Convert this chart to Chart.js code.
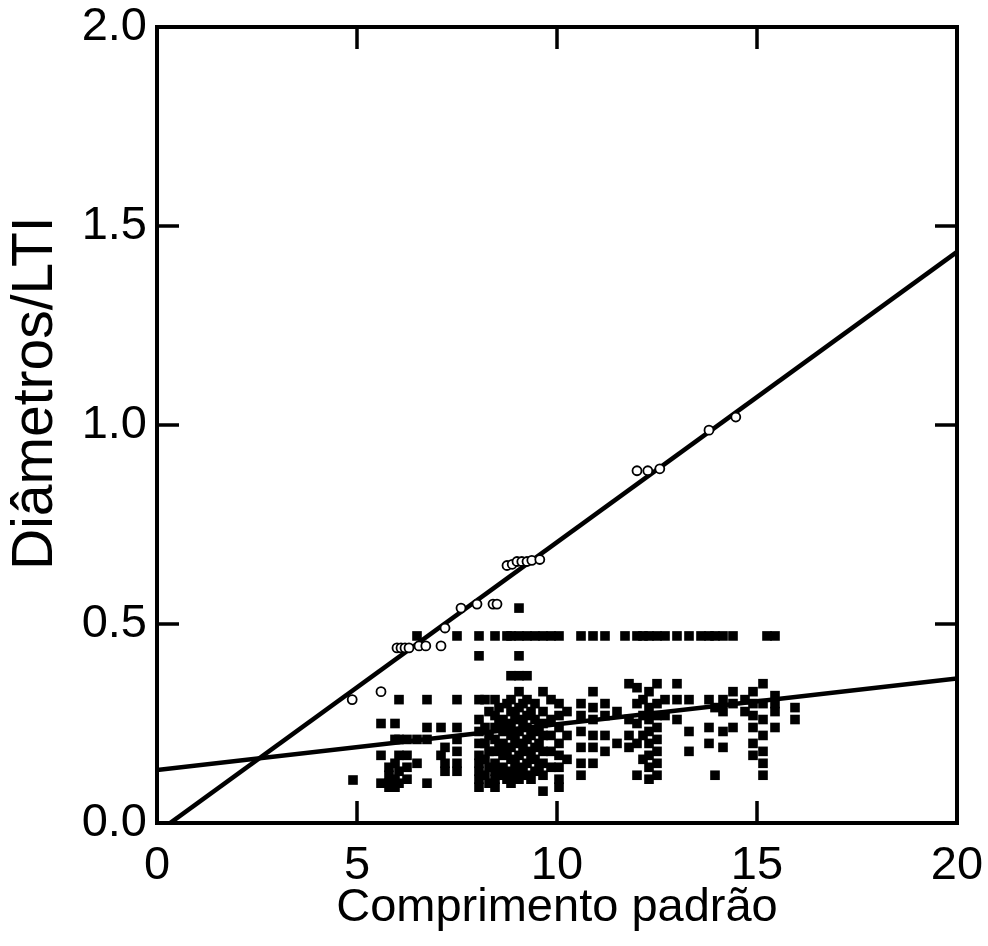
<!DOCTYPE html>
<html>
<head>
<meta charset="utf-8">
<script src="https://cdn.jsdelivr.net/npm/chart.js@4/dist/chart.umd.min.js"></script>
<style>
  html, body { margin: 0; padding: 0; background: #fff; }
  #wrap { width: 988px; height: 946px; }
</style>
</head>
<body>
<div id="wrap"><canvas id="c" width="988" height="946"></canvas></div>
<script>
// Axis ticks
const xTicks = [0, 5, 10, 15, 20];
const yTicks = [0.0, 0.5, 1.0, 1.5, 2.0];

// Open circles: standard length vs. diameter/LTI
const circleX = [4.88, 5.6, 6.0, 6.1, 6.2, 6.3, 6.55, 6.72, 7.1, 7.2, 7.6, 8.0, 8.4, 8.5,
                 8.75, 8.88, 9.0, 9.12, 9.25, 9.37, 9.57, 12.0, 12.27, 12.57, 13.8, 14.47];
const circleY = [0.31, 0.33, 0.44, 0.44, 0.44, 0.44, 0.445, 0.445, 0.445, 0.49, 0.54, 0.55, 0.55, 0.55,
                 0.647, 0.65, 0.657, 0.657, 0.657, 0.66, 0.662, 0.885, 0.885, 0.89, 0.987, 1.02];

// Filled squares, grouped by standard length: [x, [y values]]
const squareColumns = [
  [4.9,  [0.108]],
  [5.6,  [0.25, 0.17, 0.10]],
  [5.8,  [0.14, 0.12, 0.10, 0.09]],
  [5.95, [0.25, 0.21, 0.15, 0.11, 0.09]],
  [6.05, [0.31, 0.21, 0.17, 0.13, 0.10]],
  [6.25, [0.21, 0.17, 0.14, 0.11]],
  [6.5,  [0.21, 0.15, 0.47]],
  [6.75, [0.31, 0.24, 0.21, 0.10]],
  [7.1,  [0.24, 0.17]],
  [7.2,  [0.19, 0.15, 0.13]],
  [7.5,  [0.47, 0.31, 0.24, 0.21, 0.18, 0.15, 0.13]],
  [8.05, [0.47, 0.42, 0.31, 0.26, 0.23, 0.20, 0.17, 0.15, 0.13, 0.11, 0.09]],
  [8.2,  [0.31, 0.24, 0.20, 0.16, 0.12]],
  [8.3,  [0.28, 0.22, 0.18, 0.14, 0.10]],
  [8.45, [0.47, 0.31, 0.27, 0.24, 0.21, 0.18, 0.15, 0.13, 0.11, 0.09]],
  [8.55, [0.29, 0.25, 0.19, 0.13]],
  [8.65, [0.26, 0.23, 0.20, 0.17, 0.14, 0.12]],
  [8.75, [0.47, 0.30, 0.24, 0.18, 0.11]],
  [8.85, [0.47, 0.37, 0.31, 0.28, 0.25, 0.22, 0.19, 0.16, 0.13, 0.10]],
  [8.95, [0.27, 0.21, 0.15, 0.12]],
  [9.05, [0.54, 0.47, 0.42, 0.37, 0.33, 0.29, 0.26, 0.23, 0.20, 0.17, 0.14, 0.11]],
  [9.15, [0.30, 0.25, 0.19, 0.13]],
  [9.25, [0.47, 0.37, 0.31, 0.27, 0.24, 0.21, 0.18, 0.15, 0.12]],
  [9.35, [0.28, 0.22, 0.17, 0.11]],
  [9.45, [0.47, 0.30, 0.26, 0.23, 0.19, 0.16, 0.13]],
  [9.55, [0.24, 0.20, 0.14]],
  [9.65, [0.47, 0.33, 0.28, 0.25, 0.22, 0.18, 0.15, 0.12, 0.08]],
  [9.85, [0.47, 0.31, 0.26, 0.22, 0.18, 0.14]],
  [10.05,[0.47, 0.30, 0.27, 0.24, 0.20, 0.17, 0.14, 0.11, 0.09]],
  [10.25,[0.28, 0.22, 0.16]],
  [10.6, [0.47, 0.30, 0.27, 0.23, 0.19, 0.15, 0.12]],
  [10.9, [0.47, 0.33, 0.29, 0.26, 0.22, 0.19, 0.15]],
  [11.2, [0.47, 0.30, 0.27, 0.22, 0.18]],
  [11.5, [0.28, 0.20]],
  [11.7, [0.47]],
  [11.8, [0.35, 0.26, 0.22, 0.19]],
  [12.0, [0.47, 0.34, 0.30, 0.25, 0.20, 0.12]],
  [12.15,[0.47, 0.31, 0.27, 0.22, 0.16]],
  [12.3, [0.47, 0.33, 0.29, 0.26, 0.23, 0.20, 0.17, 0.14, 0.11]],
  [12.5, [0.47, 0.35, 0.30, 0.27, 0.24, 0.21, 0.18, 0.15, 0.12]],
  [12.7, [0.47, 0.31, 0.27]],
  [13.0, [0.47, 0.35, 0.31, 0.26]],
  [13.3, [0.47, 0.31, 0.23, 0.18]],
  [13.6, [0.47]],
  [13.8, [0.47, 0.31, 0.24, 0.20]],
  [13.95,[0.47, 0.29, 0.12]],
  [14.15,[0.47, 0.31, 0.28, 0.23, 0.19]],
  [14.4, [0.47, 0.33, 0.30, 0.24]],
  [14.7, [0.31, 0.28]],
  [14.9, [0.33, 0.30, 0.27, 0.24, 0.20, 0.17]],
  [15.15,[0.35, 0.30, 0.26, 0.22, 0.18, 0.15, 0.12]],
  [15.25,[0.47]],
  [15.45,[0.47, 0.32, 0.28, 0.30, 0.24]],
  [15.95,[0.29, 0.26]]
];

// Regression lines (endpoints at the axis limits)
const steepFitX = [0, 20];
const steepFitY = [-0.024, 1.435];
const shallowFitX = [0, 20];
const shallowFitY = [0.133, 0.363];

const yTitle = 'Diâmetros/LTI';

const toPoints = (xs, ys) => xs.map((x, i) => ({ x: x, y: ys[i] }));
const squarePoints = [];
squareColumns.forEach(([x, ys]) => ys.forEach(y => squarePoints.push({ x: x, y: y })));

const FONT = "'Liberation Sans', Arial, Helvetica, sans-serif";

// Frame with inward tick marks on all four sides, plus the rotated y title
const framePlugin = {
  id: 'frame',
  afterDatasetsDraw(chart) {
    const { ctx, chartArea: a, scales } = chart;
    ctx.save();
    ctx.strokeStyle = '#000';
    ctx.lineWidth = 4;
    ctx.lineCap = 'square';
    ctx.strokeRect(a.left, a.top, a.right - a.left, a.bottom - a.top);
    ctx.lineWidth = 3.5;
    ctx.lineCap = 'butt';
    const tl = 22;
    xTicks.slice(1, -1).forEach(v => {
      const px = scales.x.getPixelForValue(v);
      ctx.beginPath();
      ctx.moveTo(px, a.bottom); ctx.lineTo(px, a.bottom - tl);
      ctx.moveTo(px, a.top); ctx.lineTo(px, a.top + tl);
      ctx.stroke();
    });
    yTicks.slice(1, -1).forEach(v => {
      const py = scales.y.getPixelForValue(v);
      ctx.beginPath();
      ctx.moveTo(a.left, py); ctx.lineTo(a.left + tl, py);
      ctx.moveTo(a.right, py); ctx.lineTo(a.right - tl, py);
      ctx.stroke();
    });
    // y axis title, rotated
    ctx.translate(36, scales.y.getPixelForValue(1.08));
    ctx.rotate(-Math.PI / 2);
    ctx.fillStyle = '#000';
    ctx.font = '57px ' + FONT;
    ctx.textAlign = 'center';
    ctx.textBaseline = 'middle';
    ctx.fillText(yTitle, 0, 0);
    ctx.restore();
  }
};

new Chart(document.getElementById('c'), {
  type: 'scatter',
  data: {
    datasets: [
      {
        label: 'quadrados',
        data: squarePoints,
        pointStyle: 'rect',
        pointRadius: 6.8,
        backgroundColor: '#000',
        borderColor: '#000',
        borderWidth: 0
      },
      {
        label: 'círculos',
        data: toPoints(circleX, circleY),
        pointStyle: 'circle',
        pointRadius: 4.5,
        backgroundColor: '#fff',
        borderColor: '#000',
        borderWidth: 1.8
      },
      {
        type: 'line',
        label: 'ajuste 1',
        data: toPoints(steepFitX, steepFitY),
        borderColor: '#000',
        borderWidth: 4.5,
        pointRadius: 0,
        fill: false
      },
      {
        type: 'line',
        label: 'ajuste 2',
        data: toPoints(shallowFitX, shallowFitY),
        borderColor: '#000',
        borderWidth: 4.5,
        pointRadius: 0,
        fill: false
      }
    ]
  },
  options: {
    responsive: false,
    animation: false,
    devicePixelRatio: 1,
    layout: { padding: { top: 27, right: 31, left: 0, bottom: 0 } },
    plugins: { legend: { display: false }, tooltip: { enabled: false } },
    scales: {
      x: {
        type: 'linear',
        min: 0, max: 20,
        afterBuildTicks: s => { s.ticks = xTicks.map(v => ({ value: v })); },
        afterFit: s => { s.height = 123; s.paddingLeft = 0; s.paddingRight = 0; },
        grid: { display: false, drawTicks: false },
        border: { display: false },
        ticks: {
          color: '#000',
          padding: 15,
          font: { family: FONT, size: 47 },
          maxRotation: 0,
          callback: v => String(v)
        },
        title: {
          display: true,
          text: 'Comprimento padrão',
          color: '#000',
          font: { family: FONT, size: 47 },
          padding: { top: 0, bottom: 10 }
        }
      },
      y: {
        type: 'linear',
        min: 0, max: 2,
        afterBuildTicks: s => { s.ticks = yTicks.map(v => ({ value: v })); },
        afterFit: s => { s.width = 157; s.paddingTop = 0; s.paddingBottom = 0; },
        grid: { display: false, drawTicks: false },
        border: { display: false },
        ticks: {
          color: '#000',
          padding: 10,
          font: { family: FONT, size: 47 },
          callback: v => Number(v).toFixed(1)
        }
      }
    }
  },
  plugins: [framePlugin]
});
</script>
</body>
</html>
